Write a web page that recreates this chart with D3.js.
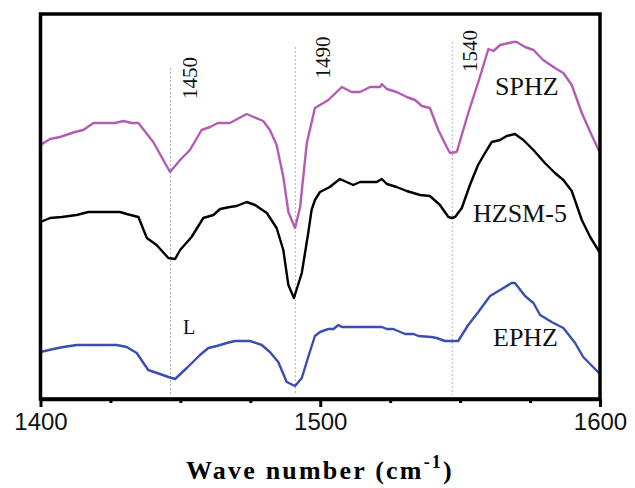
<!DOCTYPE html>
<html><head><meta charset="utf-8">
<script src="https://cdn.jsdelivr.net/npm/d3@7"></script>
<style>body{margin:0;background:#fff}</style>
</head><body>
<svg id="chart" width="635" height="488"></svg>
<script>
// wavenumber (cm-1), absorbance (a.u., arbitrary offset)
const sphzX = [1400,1403.4,1407,1412.3,1415.3,1418.9,1426.6,1429.6,1432.6,1435,1440.3,1446.3,1449.9,1453.4,1457.6,1460.6,1463.4,1467.7,1473.7,1479.6,1482,1484.4,1486.8,1488.6,1491,1492.8,1495.2,1498.1,1502.9,1507.7,1511.2,1514.2,1517.8,1521.4,1522,1523.8,1527.3,1530.9,1533.9,1536.3,1539.2,1542.2,1545.2,1546.4,1548.8,1552.9,1556.5,1560.1,1561.9,1564.3,1569,1570.2,1573.2,1576.2,1579.7,1583.9,1586.9,1589.9,1593.5,1596.5,1600];
const sphzY = [254,260,262,267,269,276,276,278,276,276,257,227,239,249,269,272,276,276,285,278,269,254,222,187,171,192,256,291,299,312,307,307,312,312,315,310,307,302,299,293,291,269,252,246,247,286,317,350,348,354,357,357,352,349,339,331,326,314,286,267,246];

const hzsmX = [1400,1403.4,1407.6,1412.9,1417.1,1428.4,1430.8,1435,1438,1441.5,1445.7,1448.1,1449.9,1454,1458.2,1461.8,1464.2,1467.7,1470.1,1473.7,1476.7,1480.9,1484.4,1486.8,1488.6,1490.6,1493.4,1495.7,1496.9,1498.1,1499.9,1503.4,1507,1511.8,1514.2,1520.2,1522,1523.8,1527.3,1530.9,1535.7,1539.2,1542.8,1545.8,1547,1548.2,1550.6,1553.5,1556.4,1558.9,1561.3,1564.3,1566.6,1569.6,1572.6,1576.2,1580.3,1583.9,1586.9,1589.9,1593.5,1596.5,1600];
const hzsmY = [177,181,182,184,187,187,185,182,161,154,141,140,149,162,181,184,190,192,193,197,194,186,171,149,114,101,126,166,189,199,207,212,220,214,217,217,220,215,212,208,204,203,194,182,181,182,191,214,234,246,257,259,263,265,259,249,236,226,219,208,179,162,146];

const ephzX = [1400,1404.6,1408.2,1412.9,1427.2,1430.8,1434.4,1438.5,1442.7,1445.7,1448.1,1452.3,1457,1460,1463,1466.6,1469.5,1474.9,1479.1,1482,1485,1488,1491,1493.4,1495.7,1498.1,1499.9,1502.9,1504.7,1506.5,1507.7,1522,1523.8,1526.1,1530.3,1533.3,1535.1,1539.8,1541.6,1544.6,1549.3,1552.9,1556.5,1560.7,1564.3,1568.4,1569.6,1573.2,1576.2,1578.6,1582.7,1586.9,1591.1,1594,1600];
const ephzY = [47,50,52,54,54,52,46,29,25,22,20,31,44,51,53,56,58,58,54,47,37,17,13,21,42,63,67,70,70,74,72,72,70,70,65,65,63,62,61,58,58,74,87,103,109,116,116,103,96,84,77,71,56,42,25];

const seriesNames = ["SPHZ","HZSM-5","EPHZ"];
const seriesColors = ["#b35cb3","#000000","#3b4eb0"];
const peakPositions = [1446.5,1491.1,1547.2];
const peakLabels = ["1450","1490","1540"];
const xTicks = [1400,1425,1450,1475,1500,1525,1550,1575,1600];
const xTickLabels = ["1400","","","","1500","","","","1600"];

const svg = d3.select("#chart");
const L = 40.5, R = 600, T = 14, B = 399;
const x = d3.scaleLinear().domain([1400,1600]).range([L,R]);
const y = d3.scaleLinear().domain([0,385]).range([B,T]);

// peak reference lines
const peakTop = [68,47,42];
peakPositions.forEach((p,i)=>{
  svg.append("line").attr("x1",x(p)).attr("x2",x(p))
    .attr("y1",peakTop[i]).attr("y2",B-4)
    .attr("stroke","#b0b0b0").attr("stroke-width",1).attr("stroke-dasharray","2,2");
});

// curves
const line = d3.line().x(d=>x(d[0])).y(d=>y(d[1]));
const data = [d3.zip(sphzX,sphzY), d3.zip(hzsmX,hzsmY), d3.zip(ephzX,ephzY)];
data.forEach((d,i)=>{
  svg.append("path").datum(d).attr("d",line).attr("fill","none")
    .attr("stroke",seriesColors[i]).attr("stroke-width",2.4).attr("stroke-linejoin","round");
});

// frame
svg.append("rect").attr("x",L).attr("y",T).attr("width",R-L).attr("height",B-T)
  .attr("fill","none").attr("stroke","#000").attr("stroke-width",3.5);

// x axis
const ax = svg.append("g").attr("transform",`translate(0,${B})`)
  .call(d3.axisBottom(x).tickValues(xTicks).tickFormat((d,i)=>xTickLabels[i]).tickSizeOuter(0));
ax.select(".domain").attr("stroke","#000").attr("stroke-width",3.5);
ax.selectAll(".tick line").attr("stroke","#000").attr("stroke-width",3)
  .attr("y2",(d,i)=>xTickLabels[i] ? 8 : 4);
ax.selectAll(".tick text").attr("font-family","'Liberation Sans', Arial, sans-serif")
  .attr("font-size",24).attr("fill","#111").attr("y",14).attr("dy","0.71em");

// title
const title = svg.append("text").attr("x",320).attr("y",479).attr("text-anchor","middle")
  .attr("font-family","'Liberation Serif','Times New Roman',serif").attr("font-weight","bold")
  .attr("font-size",26).attr("letter-spacing",2.2).attr("fill","#000");
title.append("tspan").text("Wave number (cm");
title.append("tspan").attr("font-size",18).attr("dy",-11).text("-1");
title.append("tspan").attr("dy",11).text(")");

// peak labels (rotated)
const peakLabelPos = [[197,78],[330,57.5],[477,51]];
peakLabels.forEach((t,i)=>{
  svg.append("text").attr("transform",`translate(${peakLabelPos[i][0]},${peakLabelPos[i][1]}) rotate(-90)`)
    .attr("text-anchor","middle").attr("font-family","'Liberation Serif','Times New Roman',serif")
    .attr("font-size",21).attr("fill","#111").text(t);
});

// series labels
const nameX = [495,473,493], nameY = [95,222,346];
seriesNames.forEach((n,i)=>{
  svg.append("text").attr("x",nameX[i]).attr("y",nameY[i])
    .attr("font-family","'Liberation Serif','Times New Roman',serif")
    .attr("font-size",26).attr("fill","#111").text(n);
});
svg.append("text").attr("x",183).attr("y",334)
  .attr("font-family","'Liberation Serif','Times New Roman',serif")
  .attr("font-size",20).attr("fill","#111").text("L");
</script>
</body></html>
